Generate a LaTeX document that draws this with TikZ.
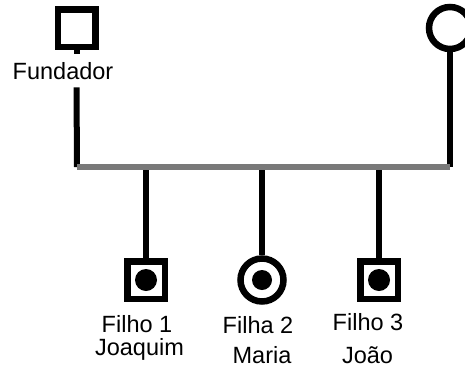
\documentclass[tikz,border=0pt]{standalone}
\usepackage{fontspec}
\setmainfont{Liberation Sans}
\begin{document}
\begin{tikzpicture}[x=1pt,y=-1pt,
  person/.style={draw=black, line width=6.5pt, fill=white, inner sep=0pt},
  male/.style={person, rectangle, minimum size=37.5pt},
  female/.style={person, circle, minimum size=42pt},
  dot/.style={circle, fill=black, inner sep=0pt, minimum size=#1},
  stem/.style={line width=6pt, black},
  bar/.style={line width=6pt, color=gray!95!black},
  lbl/.style={font=\fontsize{23.5}{28}\selectfont, inner sep=0pt, anchor=base}]
\useasboundingbox (0,0) rectangle (465,370);
% parents
\node[male] (founder) at (76.5,28) {};
\node[female] (spouse) at (450,28) {};
\node[lbl, fill=white, inner ysep=8pt] (flabel) at (63,79) {Fundador};
% children
\node[male] (c1) at (146,280) {};
\node[dot=22pt] (c1d) at (c1.center) {};
\node[female, minimum size=43pt] (c2) at (262,280) {};
\node[dot=20pt] (c2d) at (c2.center) {};
\node[male] (c3) at (379,280) {};
\node[dot=22pt] (c3d) at (c3.center) {};
% bar coordinates
\coordinate (bl) at (77,167);
\coordinate (br) at (450,167);
% stems
\draw[stem] (founder.south) -- (founder.south |- flabel.north);
\draw[stem] (founder.south |- flabel.south) -- (bl);
\draw[stem] (spouse.south) -- (br);
\draw[stem] (c1.north |- bl) -- (c1.north);
\draw[stem] (c2.north |- bl) -- (c2.north);
\draw[stem] (c3.north |- bl) -- (c3.north);
\draw[bar] (bl) -- (br);
% labels
\node[lbl] (l1a) at (137,332) {Filho 1};
\node[lbl] (l1b) at (139.5,355) {Joaquim};
\node[lbl] (l2a) at (258,333) {Filha 2};
\node[lbl] (l2b) at (262,363) {Maria};
\node[lbl] (l3a) at (368,330) {Filho 3};
\node[lbl] (l3b) at (367.5,363) {João};
\end{tikzpicture}
\end{document}
